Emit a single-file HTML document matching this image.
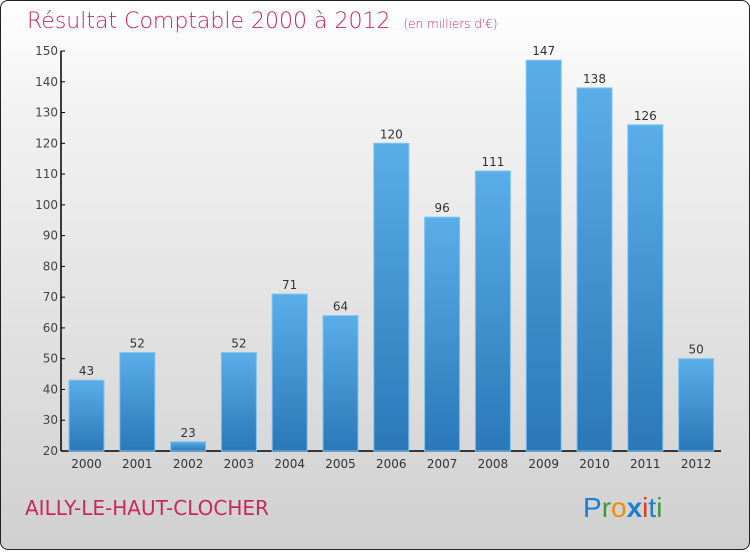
<!DOCTYPE html>
<html><head><meta charset="utf-8"><style>
body{margin:0;width:750px;height:550px;overflow:hidden}
#c{position:absolute;left:0;top:0;width:748px;height:548px;border:1px solid #222;border-radius:8px;background:linear-gradient(#ffffff,#f2f2f2 20%,#d0d0d0);font-family:"DejaVu Sans","Liberation Sans",sans-serif}
</style></head><body>
<div id="c">
<svg width="750" height="550">
<defs><linearGradient id="bg" x1="0" y1="0" x2="0" y2="1"><stop offset="0" stop-color="#5aaee8"/><stop offset="1" stop-color="#2a78b8"/></linearGradient></defs>
<text x="26" y="27" font-size="22" fill="#c8285c" font-weight="200">Résultat Comptable 2000 à 2012 <tspan font-size="12" dx="6">(en milliers d'€)</tspan></text>
<g id="g"></g>
<text x="24" y="514" font-size="20" fill="#c8285c">AILLY-LE-HAUT-CLOCHER</text>
<text x="582" y="516" font-size="28" font-family="Liberation Sans,sans-serif"><tspan fill="#1a7fd0">P</tspan><tspan fill="#3a9a3a">r</tspan><tspan fill="#f08a10">o</tspan><tspan fill="#1a7fd0" font-weight="bold">x</tspan><tspan fill="#e03a20">i</tspan><tspan fill="#1a7fd0">t</tspan><tspan fill="#3a9a3a">i</tspan></text>
</svg></div>
<script>
const years=["2000","2001","2002","2003","2004","2005","2006","2007","2008","2009","2010","2011","2012"];
const values=[43,52,23,52,71,64,120,96,111,147,138,126,50];
const ticks=[20,30,40,50,60,70,80,90,100,110,120,130,140,150];
const ns="http://www.w3.org/2000/svg",g=document.getElementById('g');
const y=v=>450-(v-20)*400/130, x=i=>85.5+i*50.8;
function mk(t,a,txt){const e=document.createElementNS(ns,t);for(const k in a)e.setAttribute(k,a[k]);if(txt!=null)e.textContent=txt;g.appendChild(e);return e;}
let e=mk('line',{x1:60,y1:50,x2:60,y2:450,stroke:'#000','stroke-width':1.5});


e=mk('line',{x1:60,y1:450,x2:720,y2:450,stroke:'#000','stroke-width':1.5});


ticks.forEach(t=>{
 e=mk('line',{x1:60,x2:64,y1:y(t),y2:y(t),stroke:'#000'});
 
 
 e=mk('text',{x:57,y:y(t)+4,'font-size':12,fill:'#444','text-anchor':'end'},t);
 
 
});
values.forEach((v,i)=>{
 e=mk('rect',{x:x(i)-17.5,y:y(v),width:35,height:450-y(v),fill:'url(#bg)',stroke:'#7cc4f4','stroke-width':1});
 
 
 e=mk('text',{x:x(i),y:y(v)-5,'font-size':12,fill:'#333','text-anchor':'middle'},v);
 
 
 e=mk('text',{x:x(i),y:467,'font-size':12,fill:'#333','text-anchor':'middle'},years[i]);
 
 
});
</script>
</body></html>
